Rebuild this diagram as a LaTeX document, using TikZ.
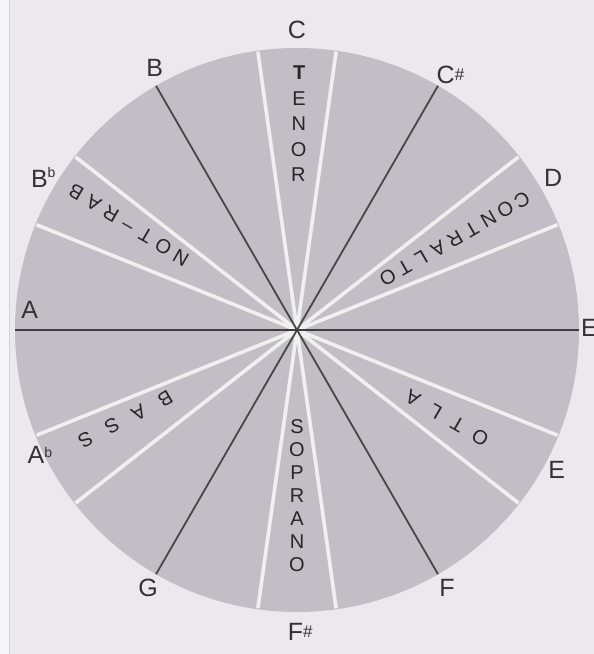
\documentclass[tikz,border=0pt]{standalone}
\usepackage{fontspec}
\setmainfont{Liberation Sans}
\usetikzlibrary{calc}
\begin{document}
\begin{tikzpicture}[x=1pt,y=1pt,
  notelabel/.style={font=\fontsize{25}{25}\selectfont, text=black!80, inner sep=0pt},
  voiceletter/.style={font=\fontsize{20}{20}\selectfont, text=black!85, inner sep=0pt},
  whiteline/.style={draw=white!88!gray, line width=3.6pt},
  darkline/.style={draw=black!72, line width=1.8pt}]
\definecolor{paper}{RGB}{235,233,237}
\definecolor{disc}{RGB}{193,191,197}
\useasboundingbox (0,0) rectangle (594,654);
\fill[paper] (0,0) rectangle (594,654);
\fill[white!60!paper] (0,0) rectangle (9,654);
\draw[black!18, line width=0.8pt] (9.5,0) -- (9.5,654);
\coordinate (O) at (297,324);
\fill[disc] (O) circle (282);
% white boundary lines of voice sectors
\foreach \a in {90,30,-30,-90,-150,150}{
  \draw[whiteline] (O) -- ($(O)+(\a+8:281)$);
  \draw[whiteline] (O) -- ($(O)+(\a-8:281)$);
}
% dark diameters
\coordinate (nB) at ($(O)+(120:282)$);
\coordinate (nF) at ($(O)+(-60:282)$);
\coordinate (nCs) at ($(O)+(60:282)$);
\coordinate (nG) at ($(O)+(-120:282)$);
\coordinate (nA) at ($(O)+(180:282)$);
\coordinate (nEb) at ($(O)+(0:282)$);
\draw[darkline] (nB) -- (nF);
\draw[darkline] (nCs) -- (nG);
\draw[darkline, line width=2.6pt, draw=black!76] (nA) -- (nEb);
% note labels
\node[notelabel] (lC) at ($(O)+(90:300)$) {C};
\node[notelabel] (lCs) at ($(O)+(59:298)$) {C\raisebox{3pt}{\fontsize{17}{17}\selectfont\#}};
\node[notelabel] (lD) at ($(O)+(30.7:298)$) {D};
\node[notelabel, anchor=west] (lEb) at ($(O)+(0.8:284)$) {E\raisebox{10pt}{\fontsize{14}{14}\selectfont b}};
\node[notelabel] (lE) at ($(O)+(-28.3:295)$) {E};
\node[notelabel] (lF) at ($(O)+(-59.8:298)$) {F};
\node[notelabel] (lFs) at ($(O)+(-89.4:302)$) {F\raisebox{3pt}{\fontsize{17}{17}\selectfont\#}};
\node[notelabel] (lG) at ($(O)+(-120:298)$) {G};
\node[notelabel] (lAb) at ($(O)+(-154:286)$) {A\raisebox{6pt}{\fontsize{14}{14}\selectfont b}};
\node[notelabel] (lA) at ($(O)+(175.7:268)$) {A};
\node[notelabel] (lBb) at ($(O)+(149:296)$) {B\raisebox{10pt}{\fontsize{14}{14}\selectfont b}};
\node[notelabel] (lB) at ($(O)+(118.5:298)$) {B};
% voice words
\foreach \ch [count=\i] in {{\bfseries T},E,N,O,R}
  \node[voiceletter] (ten\i) at ($(O)+(89.5:282.5-\i*25.5)$) {\ch};
\foreach \ch [count=\i] in {S,O,P,R,A,N,O}
  \node[voiceletter] (sop\i) at ($(O)+(-90:74+\i*23)$) {\ch};
\foreach \ch [count=\i] in {C,O,N,T,R,A,L,T,O}
  \node[voiceletter, rotate=210] (con\i) at ($(O)+(30:279.4-\i*19.4)$) {\ch};
\foreach \ch [count=\i] in {A,L,T,O}
  \node[voiceletter, rotate=150] (alt\i) at ($(O)+(-30.5:108.5+\i*26)$) {\ch};
\foreach \ch [count=\i] in {B,A,S,S}
  \node[voiceletter, rotate=210] (bas\i) at ($(O)+(-152.5:118.5+\i*30)$) {\ch};
\foreach \ch [count=\i] in {B,A,R,{--},T,O,N}
  \node[voiceletter, rotate=150] (bar\i) at ($(O)+(148:281.1-\i*20.6)$) {\ch};
\end{tikzpicture}
\end{document}
